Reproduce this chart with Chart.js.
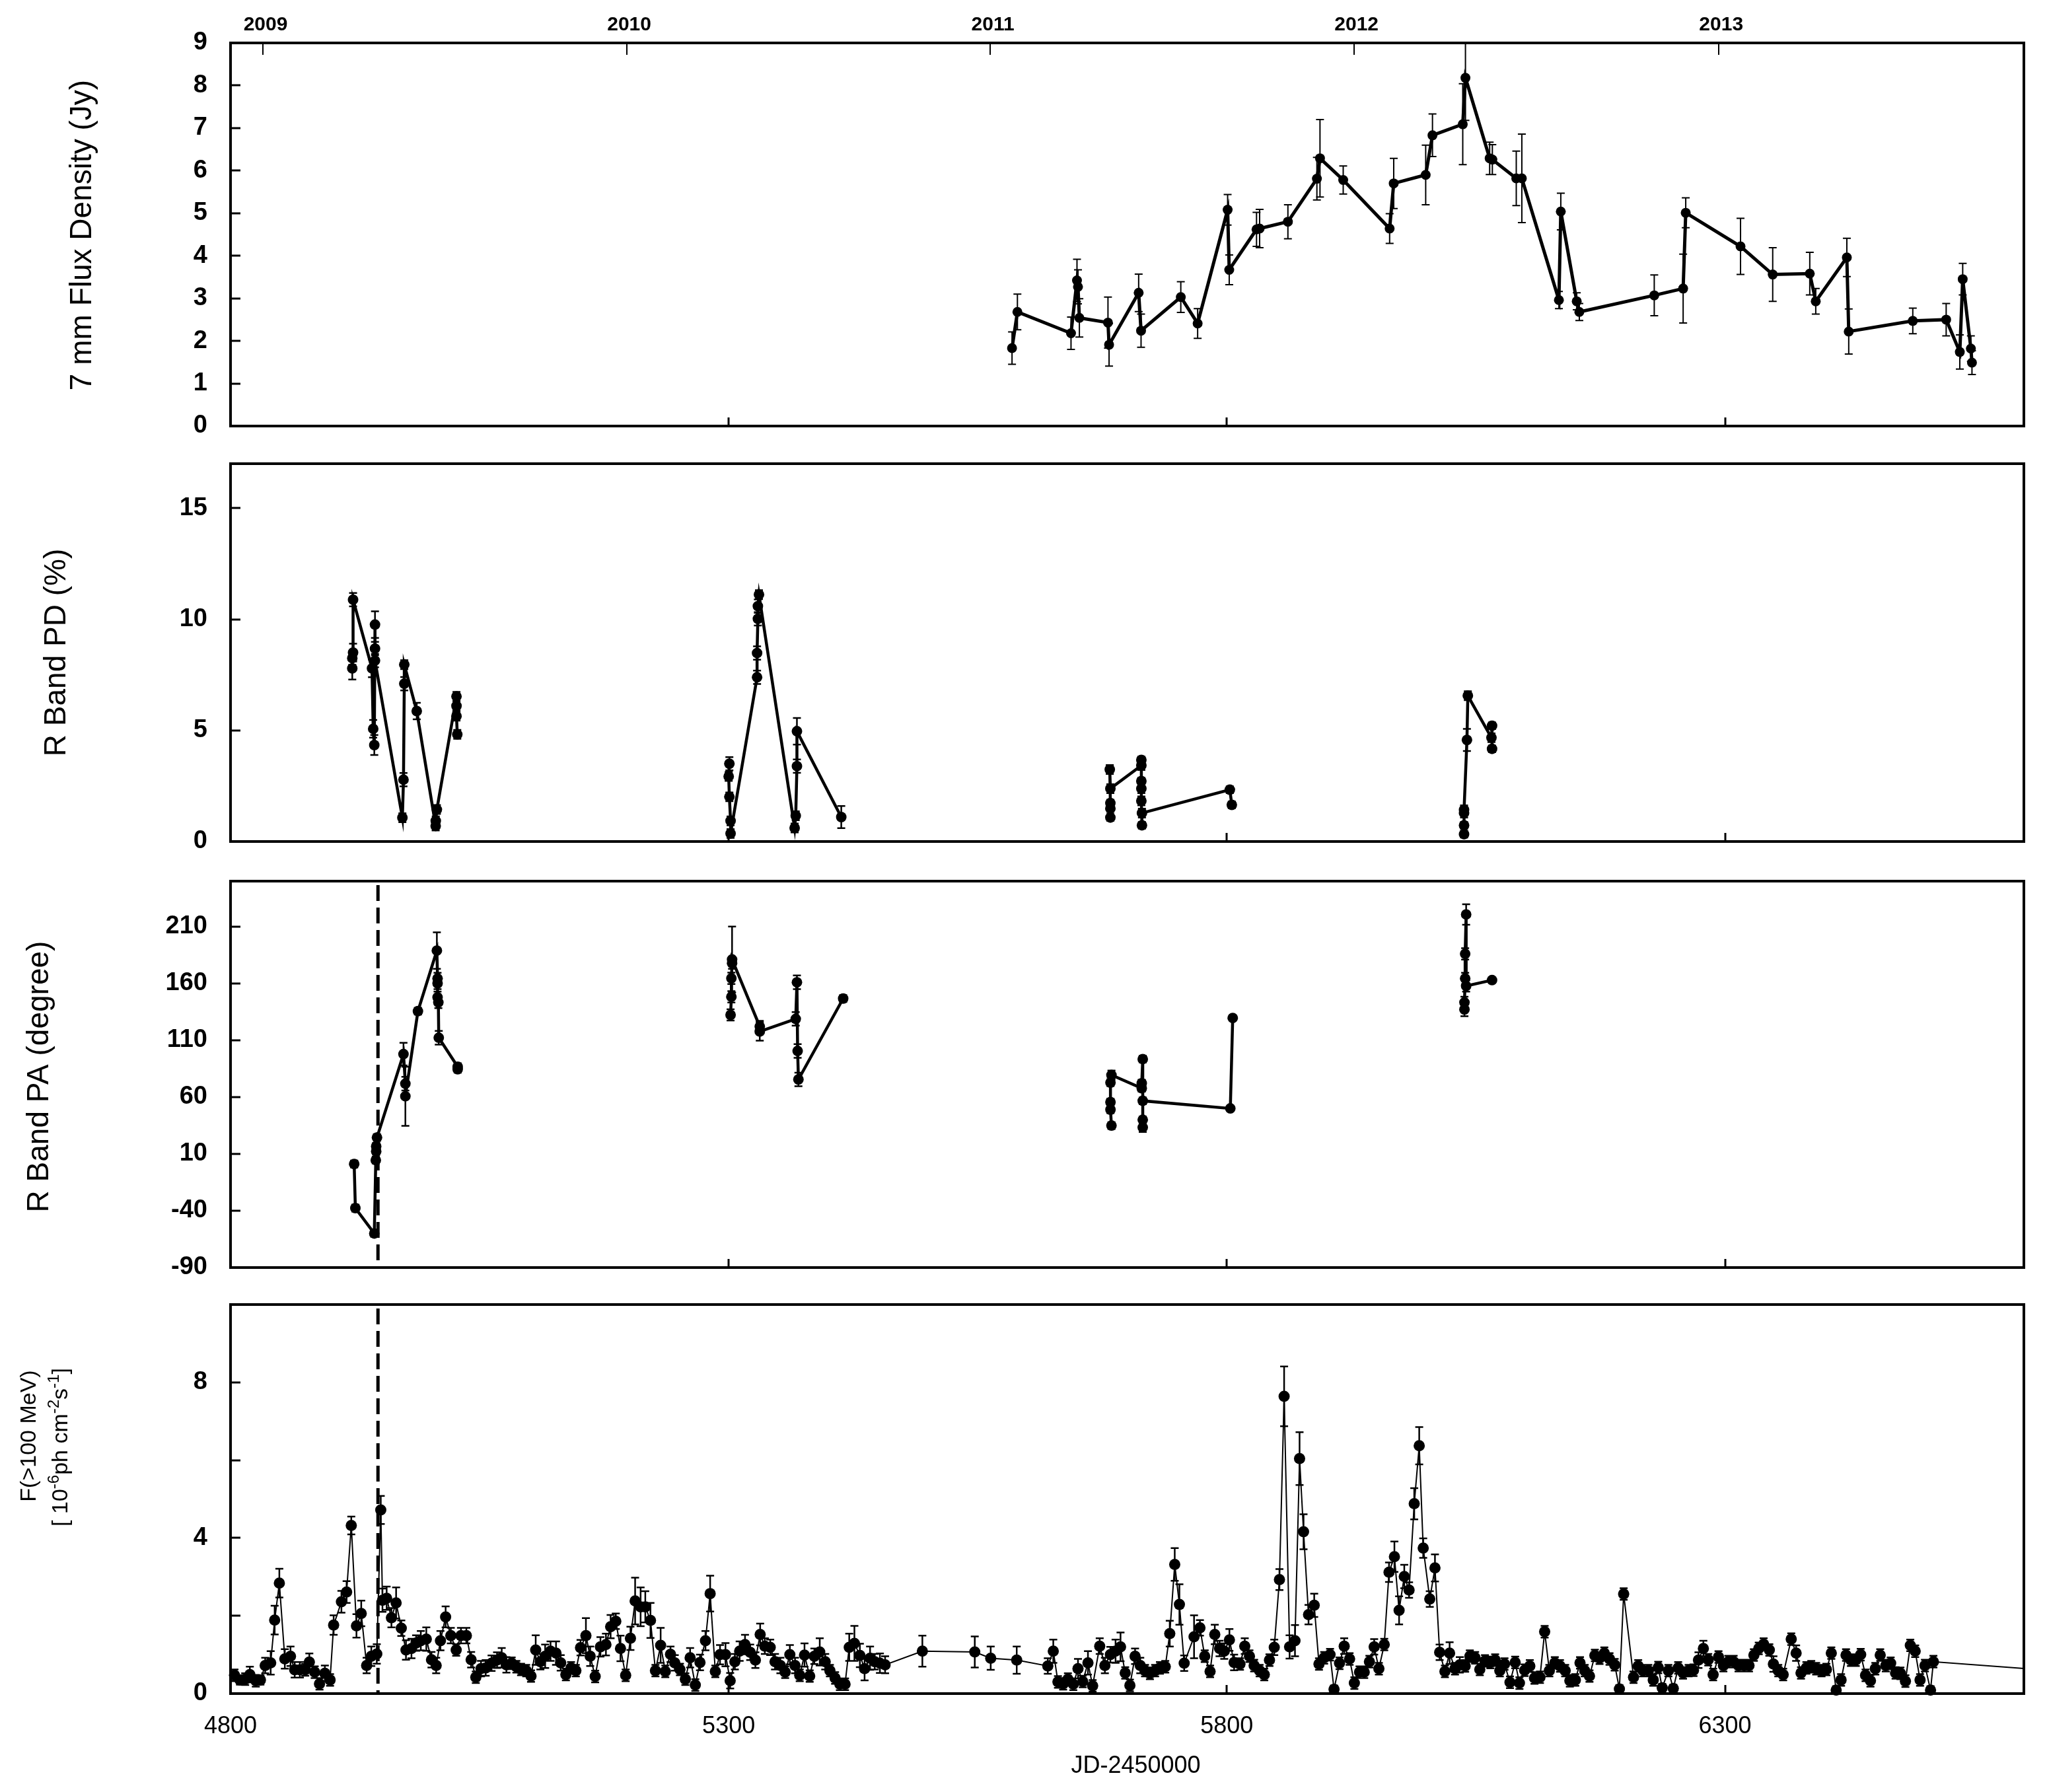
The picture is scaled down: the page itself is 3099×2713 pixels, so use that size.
<!DOCTYPE html>
<html>
<head>
<meta charset="utf-8">
<script src="https://cdn.jsdelivr.net/npm/chart.js@4.4.1/dist/chart.umd.min.js"></script>
<style>
html, body { margin: 0; padding: 0; background: #fff; }
#wrap { position: relative; width: 3099px; height: 2713px; background: #fff; }
#wrap canvas { position: absolute; left: 0; top: 0; }
</style>
</head>
<body>
<div id="wrap">
  <canvas id="c1" width="3099" height="2713"></canvas>
  <canvas id="c2" width="3099" height="2713"></canvas>
  <canvas id="c3" width="3099" height="2713"></canvas>
  <canvas id="c4" width="3099" height="2713"></canvas>
</div>
<script>
// ---- data (JD-2450000) ----
// 7 mm flux density
var radioJD = [5584.4, 5589.8, 5643.6, 5649.6, 5650.6, 5652, 5680.7, 5681.8, 5711.5, 5713.9,
  5753.8, 5770.7, 5800.8, 5802.4, 5829.8, 5832.9, 5861.3, 5890.4, 5893.5, 5916.8,
  5963.4, 5967.5, 5999.6, 6006.4, 6036.8, 6039.5, 6063.8, 6066.5, 6090.5, 6096.1,
  6133.3, 6135.2, 6151.2, 6153.8, 6229, 6258, 6260.6, 6315.6, 6347.9, 6385.1,
  6391.1, 6422.3, 6424.2, 6488.5, 6522, 6535.7, 6538.6, 6546.8, 6547.9];
var radioJy = [1.83, 2.68, 2.18, 3.42, 3.27, 2.54, 2.43, 1.91, 3.13, 2.24,
  3.03, 2.41, 5.08, 3.67, 4.62, 4.64, 4.80, 5.81, 6.29, 5.78,
  4.64, 5.70, 5.90, 6.83, 7.09, 8.18, 6.29, 6.26, 5.82, 5.82,
  2.96, 5.04, 2.93, 2.68, 3.07, 3.23, 5.01, 4.22, 3.56, 3.58,
  2.93, 3.96, 2.22, 2.47, 2.50, 1.74, 3.45, 1.82, 1.49];
var radioErr = [0.38, 0.42, 0.38, 0.5, 0.4, 0.45, 0.6, 0.5, 0.44, 0.39,
  0.36, 0.35, 0.36, 0.35, 0.4, 0.45, 0.4, 0.5, 0.91, 0.33,
  0.35, 0.59, 0.7, 0.5, 0.95, 1.0, 0.38, 0.35, 0.64, 1.04,
  0.2, 0.43, 0.2, 0.2, 0.48, 0.81, 0.35, 0.66, 0.63, 0.5,
  0.3, 0.45, 0.53, 0.3, 0.38, 0.4, 0.37, 0.3, 0.28];

// R band polarization degree (null = gap between observing seasons)
var pdJD = [4922.2, 4922.2, 4923, 4923, 4942, 4943.2, 4944.3, 4945, 4945, 4945,
  4972.5, 4973.6, 4974.4, 4974.4, 4986.9, 5005.9, 5006, 5007.1, 5026.8, 5026.8, 5026.8, 5027.6,
  5150,
  5300.7, 5300, 5300.7, 5301.9, 5301.9, 5328.5, 5328.5, 5329.3, 5329.3, 5330.4, 5366.2, 5367.3, 5368.5, 5368.5, 5413,
  5550,
  5683.1, 5683.1, 5683.1, 5682.5, 5683.1, 5714.2, 5714.2, 5714.2, 5714.2, 5714.2, 5714.8, 5714.8, 5803, 5805,
  5920,
  6038.1, 6038.1, 6038.1, 6038.1, 6041, 6041.9, 6065.6, 6066.2, 6066.2];
var pdVal = [7.79, 8.25, 8.50, 10.88, 7.79, 5.07, 4.34, 9.76, 8.68, 8.14,
  1.07, 2.78, 7.10, 7.96, 5.87, 0.70, 0.93, 1.44, 6.53, 6.10, 5.64, 4.82,
  null,
  3.50, 2.93, 2.01, 0.93, 0.36, 7.39, 8.48, 10.02, 10.59, 11.11, 0.61, 1.16, 3.39, 4.96, 1.10,
  null,
  1.08, 1.48, 1.73, 3.24, 2.38, 3.42, 3.67, 2.72, 2.38, 1.83, 0.73, 1.28, 2.33, 1.65,
  null,
  0.33, 0.73, 1.28, 1.43, 4.57, 6.56, 4.67, 5.21, 4.17];
var pdErr = [0.5, 0.3, 0.4, 0.3, 0.4, 0.4, 0.45, 0.6, 0.3, 0.3,
  0.2, 0.3, 0.3, 0.2, 0.37, 0.2, 0.2, 0.2, 0.2, 0.2, 0.2, 0.2,
  0,
  0.3, 0.2, 0.2, 0.2, 0.2, 0.3, 0.3, 0.3, 0.3, 0.2, 0.2, 0.2, 0.3, 0.6, 0.5,
  0,
  0.15, 0.15, 0.15, 0.2, 0.2, 0.2, 0.15, 0.15, 0.2, 0.2, 0.15, 0.2, 0.15, 0.15,
  0,
  0.15, 0.15, 0.2, 0.2, 0.5, 0.2, 0.2, 0.15, 0.15];

// R band polarization angle
var paJD = [4924.1, 4925.3, 4944.3, 4945.8, 4946.2, 4946.2, 4947, 4973.6, 4975.5, 4975.5,
  4988.1, 5007.1, 5007.8, 5007.8, 5007.8, 5008.6, 5009, 5028, 5028,
  5150,
  5301.9, 5302.7, 5302.7, 5303.4, 5303.4, 5331.2, 5331.2, 5367.3, 5368.5, 5369.2, 5370, 5414.9,
  5550,
  5684.2, 5683.2, 5683.2, 5683.2, 5684.2, 5714.6, 5714.6, 5715.6, 5715.6, 5715.6, 5715.6, 5803.5, 5805.9,
  5920,
  6038.5, 6038.5, 6039.2, 6039.2, 6040.2, 6040.2, 6066.2];
var paVal = [1.1, -37.7, -60, 4.5, 12.2, 16.7, 24.4, 97.8, 71.8, 60.7,
  135.6, 188.9, 164.4, 160, 147.8, 143.3, 112.2, 86.7, 84.5,
  null,
  132.3, 148.2, 164.5, 177.8, 181.1, 122.1, 117.7, 128.8, 161, 100.6, 75.5, 146.7,
  null,
  34.9, 48.9, 55.6, 72.7, 79.4, 67.8, 72.2, 93.4, 33.3, 40, 56.7, 50, 129.6,
  null,
  137.1, 143.3, 164.4, 186, 220.7, 157.8, 162.9];
var paErr = [3, 3, 3, 3, 3, 3, 3, 10, 6, 26,
  3, 16, 5, 5, 5, 5, 6, 3, 3,
  0,
  5, 5, 5, 5, 29, 5, 8, 6, 6, 6, 6, 3,
  0,
  3, 3, 3, 3, 4, 3, 3, 3, 4, 3, 3, 2, 2,
  0,
  6, 5, 5, 5, 9, 5, 2];

// gamma-ray flux F(>100 MeV), 1e-6 ph cm-2 s-1
var gamJD = [4804, 4809.5, 4814.7, 4819.4, 4825.4, 4830, 4834.8, 4840.3, 4844.3, 4849,
  4854.5, 4860.2, 4864.4, 4869.6, 4875, 4879.1, 4884.5, 4889.3, 4894.7, 4899.9,
  4903.5, 4911.3, 4916.5, 4921.2, 4926.4, 4931.2, 4936.6, 4941.3, 4946.8, 4950.8,
  4952.5, 4956.7, 4961.5, 4966.2, 4971.4, 4976.1, 4981.6, 4986.3, 4991, 4996.5,
  5001.7, 5006.4, 5010.7, 5015.9, 5021.1, 5026.5, 5031.3, 5036.7, 5041.5, 5046.2,
  5051.4, 5056.1, 5062, 5067.5, 5072.2, 5076.9, 5082.2, 5086.9, 5091.6, 5096.8,
  5101.6, 5106.3, 5111, 5115.8, 5121.2, 5126.7, 5131.4, 5136.6, 5141.8, 5146.6,
  5151.3, 5156.7, 5161, 5166, 5171.3, 5176.8, 5181.5, 5186.7, 5191.4, 5196.6,
  5201.4, 5206.1, 5211.6, 5216.3, 5221.5, 5226.5, 5231.7, 5236.4, 5241.6, 5245.9,
  5251.1, 5256.5, 5261.3, 5266.5, 5271.2, 5276.7, 5281.4, 5286.6, 5291.3, 5296.8,
  5301.5, 5306.2, 5311, 5316.4, 5321.6, 5326.8, 5331.6, 5336.3, 5341.7, 5346.5,
  5351.9, 5356.7, 5361.4, 5366.6, 5371.3, 5376.1, 5381.3, 5386, 5391.4, 5396.9,
  5401.6, 5406.8, 5411.6, 5416.8, 5421, 5426.2, 5431.7, 5436.4, 5441.9, 5446.6,
  5451.8, 5457, 5494.4, 5547, 5563, 5589.1, 5620.3, 5625.8, 5630.5, 5635.7,
  5640.5, 5645.9, 5650.6, 5655.4, 5660.6, 5665.3, 5672.4, 5677.6, 5683.1, 5688.3,
  5693.3, 5698, 5702.7, 5707.9, 5713.1, 5717.9, 5722.8, 5728, 5732.8, 5738.2,
  5742.7, 5747.7, 5752.4, 5757.2, 5767.1, 5773, 5777.8, 5783.2, 5787.9, 5792.7,
  5797.4, 5802.6, 5807.3, 5813.2, 5818, 5822.7, 5827.4, 5832.9, 5837.6, 5842.8,
  5847.6, 5852.8, 5857.5, 5863, 5868.4, 5873, 5877, 5882, 5887.7, 5892.5,
  5897.7, 5903.6, 5907.6, 5913.1, 5917.8, 5923.2, 5928, 5933.2, 5937.9, 5943.1,
  5947.9, 5952.6, 5958, 5962.8, 5968.2, 5972.9, 5978.1, 5982.9, 5988.1, 5993.1,
  5997.1, 6003.7, 6008.9, 6013.6, 6018.9, 6023.6, 6029, 6033.8, 6039.2, 6043.9,
  6049.2, 6053.9, 6059.1, 6064.5, 6069.3, 6074, 6078.7, 6084.2, 6089.4, 6093.7,
  6098.9, 6104.1, 6108.8, 6114.3, 6119, 6123.7, 6129.2, 6134.4, 6139.6, 6144.3,
  6149.8, 6154.5, 6159.2, 6164, 6169.4, 6174.1, 6178.9, 6184.1, 6189.3, 6194,
  6198.3, 6208.2, 6212.9, 6217.7, 6223.1, 6228, 6233, 6237, 6243.2, 6248.1,
  6253, 6257.9, 6263.5, 6268.4, 6273.4, 6278.3, 6283.2, 6288.1, 6293.5, 6298.4,
  6303.3, 6308.7, 6313.6, 6319.2, 6324.1, 6329, 6333.9, 6338.8, 6344.5, 6348.6,
  6353.5, 6358.4, 6366.5, 6371.4, 6376.3, 6381.7, 6386.6, 6391.5, 6396.9, 6401.8,
  6406.7, 6411.6, 6416.5, 6421.5, 6426.4, 6431.3, 6436.2, 6441.1, 6446, 6450.9,
  6455.8, 6461.4, 6466.3, 6471.2, 6476.1, 6481.1, 6486, 6490.9, 6495.8, 6500.7,
  6506.3, 6509.2, 6640];
var gamFlux = [0.47, 0.35, 0.37, 0.49, 0.33, 0.35, 0.72, 0.79, 1.89, 2.84,
  0.89, 0.96, 0.61, 0.61, 0.61, 0.81, 0.55, 0.25, 0.52, 0.35,
  1.76, 2.36, 2.61, 4.32, 1.74, 2.06, 0.72, 0.96, 1.02, 4.72,
  2.40, 2.45, 1.95, 2.33, 1.68, 1.12, 1.16, 1.30, 1.36, 1.40,
  0.87, 0.72, 1.36, 1.97, 1.49, 1.12, 1.49, 1.49, 0.87, 0.42,
  0.64, 0.66, 0.78, 0.86, 0.92, 0.74, 0.78, 0.69, 0.62, 0.59,
  0.45, 1.12, 0.82, 0.96, 1.09, 1.04, 0.79, 0.49, 0.66, 0.59,
  1.18, 1.49, 0.96, 0.44, 1.20, 1.26, 1.72, 1.86, 1.16, 0.47,
  1.42, 2.38, 2.23, 2.23, 1.88, 0.59, 1.24, 0.57, 1.01, 0.79,
  0.62, 0.37, 0.92, 0.22, 0.80, 1.36, 2.57, 0.57, 1.00, 1.00,
  0.33, 0.82, 1.09, 1.26, 1.06, 0.86, 1.52, 1.22, 1.19, 0.82,
  0.72, 0.55, 1.00, 0.72, 0.47, 0.99, 0.45, 0.96, 1.07, 0.82,
  0.59, 0.40, 0.24, 0.24, 1.19, 1.29, 0.98, 0.64, 0.91, 0.82,
  0.78, 0.74, 1.09, 1.07, 0.91, 0.86, 0.71, 1.09, 0.30, 0.25,
  0.37, 0.24, 0.64, 0.31, 0.79, 0.20, 1.22, 0.72, 1.00, 1.09,
  1.20, 0.53, 0.21, 0.96, 0.72, 0.59, 0.52, 0.59, 0.66, 0.69,
  1.54, 3.32, 2.29, 0.78, 1.46, 1.69, 0.96, 0.57, 1.52, 1.16,
  1.09, 1.38, 0.80, 0.76, 1.22, 0.96, 0.72, 0.59, 0.49, 0.86,
  1.19, 2.93, 7.64, 1.20, 1.36, 6.04, 4.16, 2.03, 2.27, 0.76,
  0.92, 1.00, 0.11, 0.78, 1.22, 0.89, 0.27, 0.55, 0.55, 0.82,
  1.20, 0.64, 1.26, 3.12, 3.52, 2.14, 3.01, 2.66, 4.88, 6.37,
  3.74, 2.43, 3.23, 1.06, 0.57, 1.04, 0.64, 0.74, 0.71, 0.96,
  0.92, 0.62, 0.84, 0.80, 0.86, 0.59, 0.76, 0.29, 0.80, 0.27,
  0.60, 0.71, 0.40, 0.42, 1.59, 0.59, 0.79, 0.71, 0.59, 0.33,
  0.35, 0.79, 0.59, 0.45, 0.98, 0.91, 1.04, 0.89, 0.74, 0.12,
  2.56, 0.42, 0.71, 0.59, 0.59, 0.35, 0.67, 0.15, 0.59, 0.13,
  0.66, 0.53, 0.59, 0.60, 0.86, 1.16, 0.87, 0.49, 0.94, 0.72,
  0.82, 0.82, 0.72, 0.72, 0.72, 0.99, 1.16, 1.27, 1.12, 0.76,
  0.59, 0.49, 1.40, 1.04, 0.53, 0.66, 0.69, 0.64, 0.59, 0.62,
  1.04, 0.09, 0.35, 0.99, 0.86, 0.86, 1.00, 0.47, 0.33, 0.64,
  0.99, 0.72, 0.78, 0.53, 0.52, 0.32, 1.24, 1.09, 0.35, 0.72,
  0.09, 0.82, 0.57];
var gamErr = [0.15, 0.12, 0.15, 0.2, 0.15, 0.12, 0.2, 0.3, 0.37, 0.37,
  0.25, 0.25, 0.2, 0.2, 0.15, 0.22, 0.15, 0.15, 0.2, 0.15,
  0.25, 0.28, 0.28, 0.23, 0.3, 0.33, 0.2, 0.25, 0.25, 0.36,
  0.3, 0.3, 0.25, 0.4, 0.2, 0.25, 0.25, 0.2, 0.25, 0.3,
  0.2, 0.2, 0.25, 0.27, 0.2, 0.15, 0.2, 0.2, 0.2, 0.15,
  0.2, 0.2, 0.2, 0.2, 0.25, 0.2, 0.15, 0.15, 0.15, 0.15,
  0.15, 0.38, 0.2, 0.3, 0.25, 0.3, 0.2, 0.15, 0.15, 0.15,
  0.2, 0.45, 0.25, 0.15, 0.25, 0.28, 0.3, 0.2, 0.33, 0.15,
  0.3, 0.6, 0.5, 0.4, 0.45, 0.15, 0.45, 0.15, 0.2, 0.2,
  0.15, 0.15, 0.25, 0.15, 0.2, 0.25, 0.46, 0.15, 0.25, 0.3,
  0.2, 0.2, 0.25, 0.25, 0.2, 0.2, 0.28, 0.2, 0.2, 0.2,
  0.2, 0.15, 0.25, 0.2, 0.15, 0.3, 0.15, 0.2, 0.35, 0.2,
  0.15, 0.15, 0.15, 0.15, 0.35, 0.45, 0.3, 0.3, 0.3, 0.2,
  0.25, 0.22, 0.4, 0.4, 0.3, 0.35, 0.2, 0.3, 0.15, 0.15,
  0.15, 0.15, 0.25, 0.15, 0.3, 0.15, 0.2, 0.2, 0.2, 0.3,
  0.37, 0.15, 0.15, 0.2, 0.2, 0.15, 0.15, 0.15, 0.15, 0.15,
  0.33, 0.42, 0.52, 0.2, 0.55, 0.2, 0.15, 0.15, 0.25, 0.2,
  0.2, 0.28, 0.2, 0.15, 0.2, 0.15, 0.15, 0.15, 0.15, 0.15,
  0.2, 0.27, 0.77, 0.3, 0.4, 0.68, 0.45, 0.25, 0.3, 0.15,
  0.15, 0.15, 0.1, 0.15, 0.2, 0.15, 0.15, 0.15, 0.15, 0.15,
  0.2, 0.15, 0.15, 0.25, 0.39, 0.36, 0.3, 0.2, 0.4, 0.48,
  0.25, 0.2, 0.35, 0.2, 0.15, 0.28, 0.15, 0.2, 0.15, 0.15,
  0.15, 0.15, 0.15, 0.15, 0.15, 0.15, 0.15, 0.15, 0.15, 0.15,
  0.15, 0.15, 0.15, 0.15, 0.15, 0.15, 0.15, 0.15, 0.15, 0.15,
  0.15, 0.15, 0.15, 0.15, 0.15, 0.15, 0.15, 0.15, 0.15, 0.1,
  0.15, 0.15, 0.15, 0.15, 0.15, 0.15, 0.15, 0.1, 0.15, 0.1,
  0.15, 0.15, 0.15, 0.15, 0.2, 0.2, 0.15, 0.15, 0.15, 0.15,
  0.15, 0.15, 0.15, 0.15, 0.15, 0.15, 0.15, 0.15, 0.15, 0.2,
  0.15, 0.15, 0.15, 0.2, 0.15, 0.15, 0.15, 0.15, 0.15, 0.15,
  0.15, 0.1, 0.15, 0.15, 0.15, 0.15, 0.15, 0.15, 0.15, 0.15,
  0.15, 0.15, 0.15, 0.15, 0.15, 0.15, 0.15, 0.15, 0.15, 0.15,
  0.1, 0.15, 0];

// axes
var xTicks = [4800, 5300, 5800, 6300];
var yearJD = [4832.5, 5197.5, 5562.5, 5927.5, 6293.5];
var yearLabels = ['2009', '2010', '2011', '2012', '2013'];
var radioTicks = [0, 1, 2, 3, 4, 5, 6, 7, 8, 9];
var pdTicks = [0, 5, 10, 15];
var paTicks = [-90, -40, 10, 60, 110, 160, 210];
var gamTicks = [0, 2, 4, 6, 8, 10];
var gamLabelTicks = [0, 4, 8];
var flareJD = 4948;

// ---- drawing ----
var FONT = "'Liberation Sans', Arial, sans-serif";
Chart.defaults.font.family = FONT;
Chart.defaults.color = '#000';

var AREA_LEFT = 349, AREA_RIGHT = 3064, Y_W = 140, X_H = 100;

function pts(xs, ys) {
  return xs.map(function(x, i) { return { x: x, y: ys[i] }; });
}

function vText(ctx, segs, x, y, size) {
  var sup = Math.round(size * 0.72);
  ctx.save();
  ctx.translate(x, y);
  ctx.rotate(-Math.PI / 2);
  ctx.textBaseline = 'alphabetic';
  ctx.textAlign = 'left';
  ctx.fillStyle = '#000';
  var total = 0;
  segs.forEach(function(s) {
    ctx.font = (s.sup ? sup : size) + 'px ' + FONT;
    s.w = ctx.measureText(s.t).width;
    total += s.w;
  });
  var cx = -total / 2;
  segs.forEach(function(s) {
    ctx.font = (s.sup ? sup : size) + 'px ' + FONT;
    ctx.fillText(s.t, cx, s.sup ? -size * 0.38 : 0);
    cx += s.w;
  });
  ctx.restore();
}

var deco = {
  id: 'deco',
  beforeDatasetsDraw: function(chart, args, o) {
    var ctx = chart.ctx, a = chart.chartArea, sx = chart.scales.x, sy = chart.scales.y;
    ctx.save();
    ctx.strokeStyle = '#000';

    // error bars
    ctx.save();
    ctx.beginPath();
    ctx.rect(a.left - 12, a.top, a.right - a.left + 12, a.bottom - a.top + 12);
    ctx.clip();
    ctx.lineWidth = o.errWidth;
    ctx.beginPath();
    o.xs.forEach(function(x, i) {
      var y = o.ys[i], e = o.err[i];
      if (y === null || !e) return;
      var px = sx.getPixelForValue(x);
      var lo = sy.getPixelForValue(y - e), hi = sy.getPixelForValue(y + e);
      ctx.moveTo(px, lo); ctx.lineTo(px, hi);
      ctx.moveTo(px - o.cap, lo); ctx.lineTo(px + o.cap, lo);
      ctx.moveTo(px - o.cap, hi); ctx.lineTo(px + o.cap, hi);
    });
    ctx.stroke();
    ctx.restore();

    // flare marker
    if (o.flare) {
      var fx = sx.getPixelForValue(flareJD);
      ctx.save();
      ctx.setLineDash([24, 10]);
      ctx.lineWidth = 5;
      ctx.beginPath();
      ctx.moveTo(fx, a.top + 6);
      ctx.lineTo(fx, a.bottom);
      ctx.stroke();
      ctx.restore();
    }

    // frame and inward ticks
    ctx.lineWidth = 4;
    ctx.strokeRect(a.left, a.top, a.right - a.left, a.bottom - a.top);
    ctx.lineWidth = 3;
    ctx.beginPath();
    o.yTicks.forEach(function(v) {
      var py = Math.round(sy.getPixelForValue(v));
      ctx.moveTo(a.left, py); ctx.lineTo(a.left + 15, py);
    });
    xTicks.forEach(function(v) {
      if (v <= sx.min) return;
      var px = Math.round(sx.getPixelForValue(v));
      ctx.moveTo(px, a.bottom); ctx.lineTo(px, a.bottom - 13);
    });
    ctx.stroke();

    if (o.years) {
      ctx.lineWidth = 2;
      ctx.beginPath();
      yearJD.forEach(function(v) {
        var px = Math.round(sx.getPixelForValue(v));
        ctx.moveTo(px, a.top); ctx.lineTo(px, a.top + 18);
      });
      ctx.stroke();
      ctx.fillStyle = '#000';
      ctx.font = 'bold 30px ' + FONT;
      ctx.textAlign = 'center';
      ctx.textBaseline = 'middle';
      yearJD.forEach(function(v, i) {
        ctx.fillText(yearLabels[i], sx.getPixelForValue(v) + 4, a.top - 27);
      });
    }
    ctx.restore();
  },
  afterDraw: function(chart, args, o) {
    var ctx = chart.ctx;
    o.titles.forEach(function(t) { vText(ctx, t.segs, t.x, t.y, t.size); });
    if (o.xTitle) {
      ctx.save();
      ctx.fillStyle = '#000';
      ctx.font = '36px ' + FONT;
      ctx.textAlign = 'center';
      ctx.textBaseline = 'middle';
      ctx.fillText(o.xTitle, (chart.chartArea.left + chart.chartArea.right) / 2 + 13, 2674);
      ctx.restore();
    }
  }
};

function panel(id, o) {
  var xScale = {
    type: 'linear', min: 4800, max: 6600, display: !!o.xLabels,
    afterBuildTicks: function(s) { s.ticks = xTicks.map(function(v) { return { value: v }; }); },
    grid: { display: false, drawTicks: false },
    border: { display: false },
    ticks: { padding: 28, font: { size: 36 }, autoSkip: false, maxRotation: 0,
             callback: function(v) { return String(v); } }
  };
  if (o.xLabels) xScale.afterFit = function(s) { s.height = X_H; };

  return new Chart(document.getElementById(id), {
    type: 'scatter',
    data: {
      datasets: [{
        data: pts(o.xs, o.ys),
        showLine: true,
        borderColor: '#000',
        borderWidth: o.lw,
        pointRadius: o.r,
        pointHoverRadius: o.r,
        pointBackgroundColor: '#000',
        pointBorderWidth: 0,
        clip: { left: 12, top: 12, right: 0, bottom: 12 }
      }]
    },
    options: {
      responsive: false,
      animation: false,
      events: [],
      layout: { padding: {
        left: AREA_LEFT - Y_W,
        right: 3099 - AREA_RIGHT,
        top: o.top,
        bottom: 2713 - o.bottom - (o.xLabels ? X_H : 0)
      } },
      scales: {
        x: xScale,
        y: {
          type: 'linear', min: o.min, max: o.max,
          afterBuildTicks: function(s) { s.ticks = o.yTicks.map(function(v) { return { value: v }; }); },
          afterFit: function(s) { s.width = Y_W; },
          grid: { display: false, drawTicks: false },
          border: { display: false },
          ticks: { padding: 35, font: { size: 38, weight: 'bold' }, autoSkip: false,
                   callback: o.fmt || function(v) { return String(v); } }
        }
      },
      plugins: {
        legend: { display: false },
        tooltip: { enabled: false },
        deco: {
          xs: o.xs, ys: o.ys, err: o.err, errWidth: o.ew, cap: o.cap,
          yTicks: o.yTicks, flare: !!o.flare, years: !!o.years,
          titles: o.titles, xTitle: o.xTitle
        }
      }
    },
    plugins: [deco]
  });
}

panel('c1', {
  xs: radioJD, ys: radioJy, err: radioErr, top: 65, bottom: 645, min: 0, max: 9,
  yTicks: radioTicks, lw: 5, r: 7.5, ew: 2, cap: 6, years: true,
  titles: [{ segs: [{ t: '7 mm Flux Density (Jy)' }], x: 138, y: 356, size: 46 }]
});

panel('c2', {
  xs: pdJD, ys: pdVal, err: pdErr, top: 702, bottom: 1274, min: 0, max: 17,
  yTicks: pdTicks, lw: 4.5, r: 8, ew: 2.5, cap: 6,
  titles: [{ segs: [{ t: 'R Band PD (%)' }], x: 99, y: 988, size: 46 }]
});

panel('c3', {
  xs: paJD, ys: paVal, err: paErr, top: 1334, bottom: 1919, min: -90, max: 250,
  yTicks: paTicks, lw: 4.5, r: 8, ew: 2.5, cap: 6, flare: true,
  titles: [{ segs: [{ t: 'R Band PA (degree)' }], x: 73, y: 1630, size: 46 }]
});

panel('c4', {
  xs: gamJD, ys: gamFlux, err: gamErr, top: 1975, bottom: 2564, min: 0, max: 10,
  yTicks: gamTicks, lw: 2, r: 8.5, ew: 2.5, cap: 6, flare: true, xLabels: true,
  fmt: function(v) { return gamLabelTicks.indexOf(v) >= 0 ? String(v) : ''; },
  xTitle: 'JD-2450000',
  titles: [
    { segs: [{ t: 'F(>100 MeV)' }], x: 54, y: 2174, size: 34 },
    { segs: [{ t: '[ 10' }, { t: '-6', sup: true }, { t: 'ph cm' }, { t: '-2', sup: true },
             { t: 's' }, { t: '-1', sup: true }, { t: ']' }], x: 102, y: 2191, size: 34 }
  ]
});
</script>
</body>
</html>
